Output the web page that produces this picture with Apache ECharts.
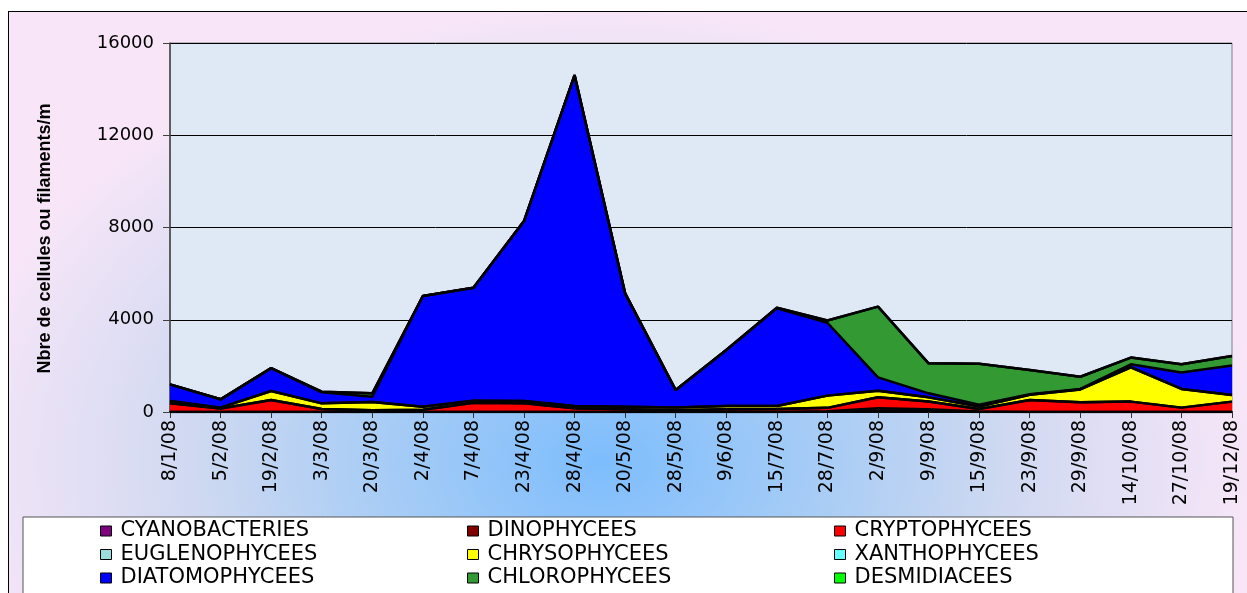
<!DOCTYPE html>
<html>
<head>
<meta charset="utf-8">
<title>Phytoplancton 2008</title>
<script src="https://cdn.jsdelivr.net/npm/echarts@6/dist/echarts.min.js"></script>
<style>
  html, body { margin: 0; padding: 0; background: #fff; overflow: hidden; }
  #frame {
    position: absolute; left: 8px; top: 11px; width: 1260px; height: 600px;
    border-left: 1.5px solid #000; border-top: 1.5px solid #000;
    background: radial-gradient(ellipse 52% 76% at 47% 75%, #7dbdfd 0%, #a9cdf5 35%, #cfd9f1 62%, #f8e6f8 100%);
  }
  #chart { position: absolute; left: 0; top: 0; width: 1247px; height: 593px; }
</style>
</head>
<body>
<div id="frame"></div>
<div id="chart"></div>
<script>
// dates de prélèvement
const dates = ['8/1/08', '5/2/08', '19/2/08', '3/3/08', '20/3/08', '2/4/08', '7/4/08', '23/4/08',
  '28/4/08', '20/5/08', '28/5/08', '9/6/08', '15/7/08', '28/7/08', '2/9/08', '9/9/08',
  '15/9/08', '23/9/08', '29/9/08', '14/10/08', '27/10/08', '19/12/08'];

// valeurs par classe (nbre de cellules ou filaments/m)
const cyano   = [0, 0, 0, 0, 0, 0, 0, 0, 0, 0, 0, 0, 0, 10, 50, 40, 0, 0, 0, 0, 0, 0];
const dino    = [0, 0, 0, 0, 0, 0, 0, 0, 0, 0, 0, 0, 0, 20, 110, 80, 20, 0, 0, 0, 0, 0];
const crypto  = [375, 150, 520, 130, 80, 100, 400, 380, 160, 120, 80, 120, 130, 150, 480, 340, 110, 520, 420, 450, 190, 450];
const euglen  = [0, 0, 0, 0, 0, 0, 0, 0, 0, 0, 0, 0, 0, 0, 0, 0, 0, 0, 0, 0, 0, 0];
const chryso  = [100, 40, 390, 245, 350, 130, 90, 100, 100, 110, 110, 140, 130, 530, 285, 175, 110, 230, 560, 1490, 810, 290];
const xantho  = [0, 0, 0, 0, 0, 0, 0, 0, 0, 0, 0, 0, 0, 0, 0, 0, 0, 0, 0, 0, 0, 0];
const diatom  = [725, 360, 990, 480, 230, 4800, 4900, 7800, 14350, 4915, 760, 2430, 4240, 3160, 575, 175, 80, 20, 20, 130, 710, 1280];
const chloro  = [0, 0, 0, 25, 150, 0, 0, 0, 0, 0, 0, 0, 20, 100, 3070, 1300, 1770, 1050, 530, 290, 360, 410];
const desmid  = [0, 0, 0, 0, 0, 0, 0, 0, 0, 0, 0, 0, 0, 0, 0, 0, 0, 0, 0, 0, 0, 0];

const yTicks = [0, 4000, 8000, 12000, 16000];

const classes = [
  { name: 'CYANOBACTERIES', data: cyano, color: '#800080' },
  { name: 'DINOPHYCEES', data: dino, color: '#800000' },
  { name: 'CRYPTOPHYCEES', data: crypto, color: '#ff0000' },
  { name: 'EUGLENOPHYCEES', data: euglen, color: '#99dddd' },
  { name: 'CHRYSOPHYCEES', data: chryso, color: '#ffff00' },
  { name: 'XANTHOPHYCEES', data: xantho, color: '#66ffff' },
  { name: 'DIATOMOPHYCEES', data: diatom, color: '#0000ff' },
  { name: 'CHLOROPHYCEES', data: chloro, color: '#339933' },
  { name: 'DESMIDIACEES', data: desmid, color: '#00ff00' }
];

const chart = echarts.init(document.getElementById('chart'));

// une légende par colonne (3 x 3 comme dans Excel)
function legendCol(left, names) {
  return {
    orient: 'vertical',
    left: left,
    top: 520,
    height: 90,
    padding: 0,
    itemWidth: 11,
    itemHeight: 10,
    itemGap: 1.5,
    icon: 'rect',
    selectedMode: false,
    itemStyle: { borderColor: '#000', borderWidth: 1 },
    textStyle: { fontFamily: 'DejaVu Sans', fontSize: 21, lineHeight: 22, color: '#000', padding: [0, 0, 0, 4] },
    data: names
  };
}

const option = {
  backgroundColor: 'transparent',
  animation: false,
  graphic: [{
    type: 'rect',
    z: 0,
    shape: { x: 23, y: 517, width: 1210, height: 90 },
    style: { fill: '#fff', stroke: '#555', lineWidth: 1 }
  }],
  legend: [
    legendCol(100, ['CYANOBACTERIES', 'EUGLENOPHYCEES', 'DIATOMOPHYCEES']),
    legendCol(467, ['DINOPHYCEES', 'CHRYSOPHYCEES', 'CHLOROPHYCEES']),
    legendCol(834, ['CRYPTOPHYCEES', 'XANTHOPHYCEES', 'DESMIDIACEES'])
  ],
  grid: {
    left: 170, right: 15, top: 43, bottom: 181,
    show: true,
    backgroundColor: '#dfe9f6',
    borderColor: '#808080',
    borderWidth: 1
  },
  xAxis: {
    type: 'category',
    boundaryGap: false,
    data: dates,
    axisLine: { lineStyle: { color: '#000', width: 2 } },
    axisTick: { show: true, length: 6, lineStyle: { color: '#333' } },
    axisLabel: {
      interval: 0, rotate: 90, margin: 8,
      fontFamily: 'DejaVu Sans', fontSize: 19, color: '#000'
    }
  },
  yAxis: {
    type: 'value',
    min: yTicks[0],
    max: yTicks[yTicks.length - 1],
    interval: 4000,
    name: 'Nbre de cellules ou filaments/m',
    nameLocation: 'middle',
    nameRotate: 90,
    nameGap: 116,
    nameTextStyle: {
      fontFamily: 'Liberation Sans', fontWeight: 'bold', fontSize: 18, color: '#000',
      padding: [0, 22, 0, 0]
    },
    axisLine: { show: true, lineStyle: { color: '#404040', width: 1.5 } },
    axisTick: { show: true, length: 7, lineStyle: { color: '#404040' } },
    axisLabel: {
      margin: 16, fontFamily: 'DejaVu Sans', fontSize: 18, color: '#000',
      formatter: v => String(v)
    },
    splitLine: { lineStyle: { color: '#000', width: 1 } }
  },
  series: classes.map(c => ({
    name: c.name,
    type: 'line',
    stack: 'total',
    data: c.data,
    symbol: 'none',
    color: c.color,
    itemStyle: { color: c.color },
    lineStyle: { color: '#000', width: 2.5 },
    areaStyle: { color: c.color, opacity: 1 }
  }))
};

chart.setOption(option);
</script>
</body>
</html>
